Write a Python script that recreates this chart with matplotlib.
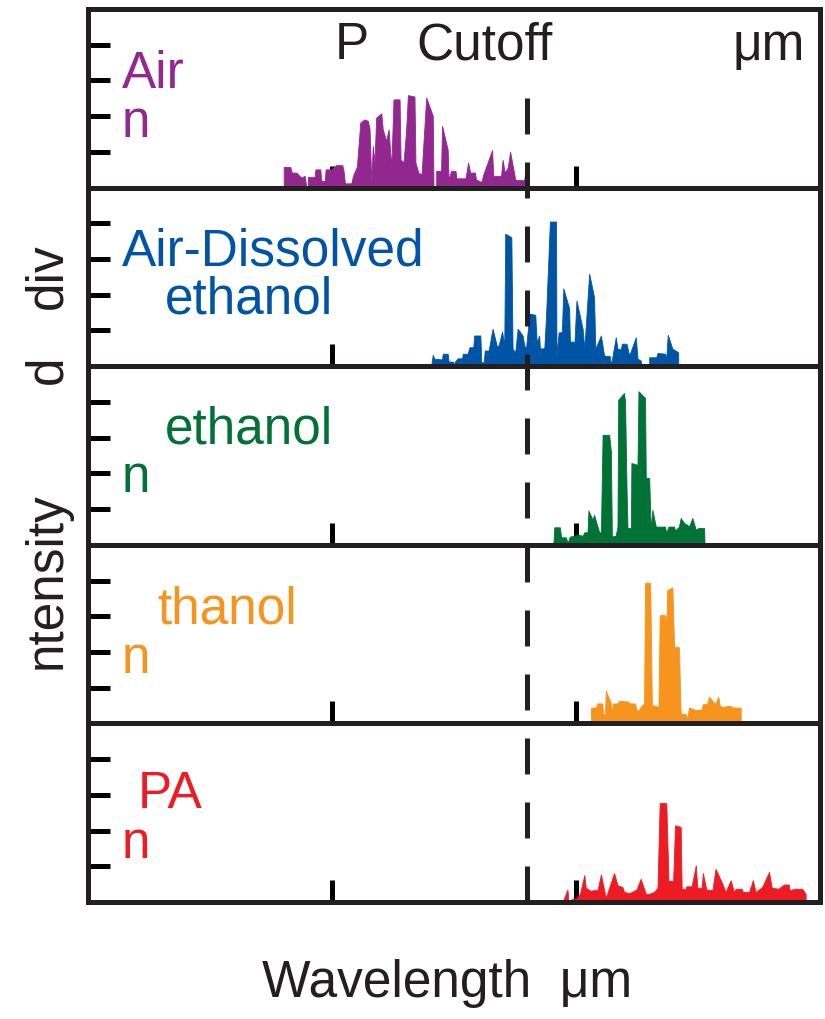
import matplotlib
matplotlib.use("Agg")
import matplotlib.pyplot as plt
from matplotlib.lines import Line2D
from matplotlib.transforms import blended_transform_factory

plt.rcParams['font.family'] = ['Liberation Sans', 'DejaVu Sans']

# ---------------- data ----------------
air_x = [0.802, 0.802, 0.829, 0.835, 0.854, 0.874, 0.888, 0.892, 0.895, 0.901, 0.901, 0.929, 0.932, 0.952,
         0.956, 0.970, 0.974, 0.997, 1.017, 1.042, 1.047, 1.053, 1.079, 1.086, 1.102, 1.116, 1.133, 1.147,
         1.154, 1.161, 1.167, 1.174, 1.181, 1.202, 1.208, 1.222, 1.232, 1.243, 1.252, 1.277, 1.281, 1.293,
         1.304, 1.311, 1.338, 1.342, 1.354, 1.367, 1.386, 1.413, 1.416, 1.427, 1.427, 1.447, 1.451, 1.474,
         1.478, 1.488, 1.506, 1.510, 1.547, 1.558, 1.566, 1.586, 1.590, 1.612, 1.620, 1.656, 1.661, 1.693,
         1.699, 1.708, 1.720, 1.730, 1.751, 1.761, 1.788, 1.795, 1.799]
air_y = [0.00, 0.58, 0.58, 0.42, 0.42, 0.28, 0.33, 0.14, 0.00, 0.00, 0.30, 0.30, 0.51, 0.51,
         0.19, 0.19, 0.51, 0.51, 0.63, 0.63, 0.49, 0.12, 0.12, 0.33, 0.59, 1.82, 1.91, 1.87,
         1.63, 0.14, 1.17, 0.70, 1.96, 2.08, 1.63, 1.31, 1.63, 0.56, 2.47, 2.47, 0.79, 0.70,
         1.63, 2.59, 2.55, 0.70, 0.42, 0.37, 2.52, 2.01, 0.00, 0.00, 0.47, 0.47, 1.73, 1.07,
         0.23, 0.47, 0.47, 0.26, 0.26, 0.70, 0.42, 0.42, 0.23, 0.16, 0.37, 1.05, 0.33, 0.33,
         0.78, 0.42, 0.56, 1.00, 0.23, 0.21, 0.21, 0.68, 0.00]

dis_x = [1.406, 1.413, 1.419, 1.451, 1.454, 1.474, 1.478, 1.495, 1.499, 1.504, 1.515, 1.533, 1.536, 1.556,
         1.563, 1.579, 1.583, 1.608, 1.612, 1.622, 1.626, 1.642, 1.658, 1.675, 1.682, 1.697, 1.706, 1.710,
         1.735, 1.740, 1.751, 1.761, 1.781, 1.788, 1.795, 1.809, 1.833, 1.839, 1.849, 1.852, 1.870, 1.877,
         1.893, 1.918, 1.920, 1.929, 1.942, 1.948, 1.972, 1.975, 1.989, 1.993, 2.002, 2.027, 2.034, 2.054,
         2.074, 2.079, 2.102, 2.115, 2.139, 2.143, 2.163, 2.170, 2.184, 2.188, 2.207, 2.218, 2.245, 2.252,
         2.265, 2.270, 2.300, 2.300, 2.329, 2.334, 2.365, 2.370, 2.376, 2.395, 2.419, 2.419]
dis_y = [0.00, 0.32, 0.21, 0.19, 0.35, 0.35, 0.13, 0.13, 0.05, 0.13, 0.22, 0.22, 0.35, 0.35,
         0.53, 0.53, 0.86, 0.86, 0.11, 0.11, 0.44, 0.44, 1.05, 0.58, 0.56, 0.97, 0.58, 3.71,
         3.61, 0.49, 0.39, 1.05, 0.86, 0.58, 0.49, 1.47, 1.44, 0.67, 0.86, 0.50, 0.50, 1.37,
         4.05, 4.05, 0.30, 0.95, 0.95, 2.18, 1.62, 0.69, 0.69, 0.58, 1.84, 1.05, 0.49, 2.59,
         1.93, 0.49, 0.86, 0.30, 0.28, 0.02, 0.81, 0.49, 0.47, 0.63, 0.63, 0.30, 0.81, 0.21,
         0.16, 0.00, 0.00, 0.25, 0.25, 0.37, 0.35, 0.21, 0.88, 0.49, 0.39, 0.00]

eth_x = [1.907, 1.911, 1.934, 1.939, 1.959, 1.965, 1.975, 2.013, 2.027, 2.034, 2.047, 2.051, 2.068, 2.074,
         2.095, 2.102, 2.109, 2.136, 2.143, 2.147, 2.163, 2.170, 2.173, 2.197, 2.201, 2.207, 2.211, 2.225,
         2.227, 2.252, 2.256, 2.283, 2.286, 2.300, 2.306, 2.313, 2.327, 2.343, 2.365, 2.370, 2.379, 2.402,
         2.406, 2.422, 2.429, 2.443, 2.456, 2.463, 2.477, 2.491, 2.501, 2.525, 2.527]
eth_y = [0.00, 0.49, 0.49, 0.21, 0.21, 0.05, 0.23, 0.28, 0.25, 0.35, 0.35, 0.96, 0.70, 0.84,
         0.35, 0.35, 3.08, 3.08, 2.61, 0.23, 0.26, 0.53, 4.06, 4.25, 4.01, 1.63, 0.47, 0.47,
         2.29, 2.24, 4.30, 4.11, 1.87, 1.87, 0.42, 0.98, 0.51, 0.51, 0.51, 0.33, 0.51, 0.51,
         0.40, 0.51, 0.75, 0.61, 0.56, 0.51, 0.75, 0.42, 0.47, 0.47, 0.00]

tha_x = [2.061, 2.061, 2.081, 2.088, 2.108, 2.111, 2.119, 2.122, 2.143, 2.147, 2.152, 2.170, 2.177, 2.215,
         2.220, 2.242, 2.248, 2.259, 2.265, 2.279, 2.283, 2.304, 2.311, 2.329, 2.338, 2.343, 2.365, 2.370,
         2.374, 2.395, 2.402, 2.422, 2.429, 2.450, 2.456, 2.463, 2.484, 2.491, 2.515, 2.520, 2.538, 2.545,
         2.565, 2.572, 2.583, 2.589, 2.600, 2.620, 2.634, 2.640, 2.675, 2.675]
tha_y = [0.00, 0.44, 0.45, 0.56, 0.56, 0.26, 0.26, 0.92, 0.56, 0.28, 0.56, 0.56, 0.63, 0.61,
         0.56, 0.56, 0.37, 0.37, 0.47, 0.56, 3.94, 3.94, 0.51, 0.49, 0.45, 3.03, 3.03, 2.75,
         3.73, 3.81, 2.15, 2.13, 0.28, 0.26, 0.11, 0.45, 0.39, 0.37, 0.39, 0.54, 0.54, 0.75,
         0.58, 0.56, 0.75, 0.51, 0.45, 0.49, 0.49, 0.45, 0.44, 0.00]

pa_x = [1.945, 1.965, 1.969, 1.978, 1.982, 2.000, 2.016, 2.034, 2.040, 2.061, 2.070, 2.088, 2.102, 2.122,
        2.156, 2.170, 2.190, 2.197, 2.218, 2.229, 2.248, 2.265, 2.286, 2.300, 2.320, 2.334, 2.343, 2.370,
        2.379, 2.398, 2.406, 2.429, 2.433, 2.450, 2.452, 2.474, 2.491, 2.497, 2.515, 2.520, 2.534, 2.559,
        2.572, 2.600, 2.613, 2.634, 2.647, 2.654, 2.679, 2.684, 2.709, 2.725, 2.736, 2.763, 2.791, 2.802,
        2.829, 2.852, 2.872, 2.875, 2.886, 2.893, 2.927, 2.941, 2.941]
pa_y = [0.00, 0.35, 0.00, 0.00, 0.09, 0.09, 0.23, 0.75, 0.40, 0.31, 0.33, 0.33, 0.77, 0.12,
        0.81, 0.47, 0.42, 0.28, 0.25, 0.28, 0.35, 0.65, 0.23, 0.23, 0.28, 0.40, 2.77, 2.77,
        0.59, 0.59, 2.15, 2.10, 0.37, 0.37, 0.44, 0.44, 1.03, 0.40, 0.40, 0.81, 0.35, 0.33,
        0.93, 0.51, 0.28, 0.61, 0.28, 0.37, 0.37, 0.28, 0.28, 0.61, 0.28, 0.42, 0.84, 0.40,
        0.37, 0.49, 0.49, 0.33, 0.35, 0.37, 0.37, 0.23, 0.00]

series_x = [air_x, dis_x, eth_x, tha_x, pa_x]
series_y = [air_y, dis_y, eth_y, tha_y, pa_y]
colors = ['#92278f', '#0054a6', '#007236', '#f7941d', '#ed1c24']

x_ticks = [0, 1, 2, 3]
y_ticks = [0, 1, 2, 3, 4]
cutoff_x = 1.80

# ---------------- figure ----------------
W, H = 825, 1019
fig = plt.figure(figsize=(W / 100, H / 100), dpi=100)
fig.patch.set_facecolor('white')
axes = fig.subplots(5, 1, sharex=True)
fig.subplots_adjust(left=88 / W, right=820 / W, top=1 - 9 / H, bottom=1 - 902 / H, hspace=0)

frame_col = '#231f20'
for ax, xs, ys, c in zip(axes, series_x, series_y, colors):
    ax.fill_between(xs, ys, 0, color=c, lw=0.6, edgecolor=c, zorder=2)
    ax.set_xlim(0, 3)
    ax.set_ylim(0, 5)
    ax.set_xticks(x_ticks)
    ax.set_yticks(y_ticks)
    ax.tick_params(axis='both', direction='in', length=16, width=3.6, color='black',
                   labelbottom=False, labelleft=False, bottom=True, left=True, top=False, right=False)
    for s in ax.spines.values():
        s.set_linewidth(3.6)
        s.set_color(frame_col)
        s.set_zorder(5)

# dashed cutoff line through all panels
tr = blended_transform_factory(axes[-1].transData, fig.transFigure)
ln = Line2D([cutoff_x, cutoff_x], [1 - 98 / H, 1 - 902 / H], transform=tr,
            color=frame_col, lw=3.6, linestyle=(0, (7.2, 5.6)), solid_capstyle='butt',
            dash_capstyle='butt', zorder=10)
fig.add_artist(ln)

FS = 37


def ftext(px, py, s, color, **kw):
    fig.text(px / W, 1 - py / H, s, color=color, fontsize=FS, ha='left', va='baseline', **kw)


# top annotations
ftext(335, 59, 'P', frame_col)
ftext(416, 59, 'Cutoff', frame_col)
ftext(732, 60, 'μm', frame_col)

# panel labels
ftext(122, 88, 'Air', colors[0])
ftext(122, 137, 'n', colors[0])
ftext(122, 266, 'Air-Dissolved', colors[1])
ftext(165, 314, 'ethanol', colors[1])
ftext(165, 443, 'ethanol', colors[2])
ftext(122, 492, 'n', colors[2])
ftext(157, 623, 'thanol', colors[3])
ftext(122, 673, 'n', colors[3])
ftext(138, 808, 'PA', colors[4])
ftext(122, 858, 'n', colors[4])

# axis labels
ftext(262, 997, 'Wavelength  μm', frame_col)
for s, py in [('ntensity', 669), ('d', 384), ('div', 309)]:
    fig.text(61 / W, 1 - py / H, s, color=frame_col, fontsize=FS, rotation=90,
             rotation_mode='anchor', ha='left', va='baseline')

fig.savefig('out.png', dpi=100, facecolor='white')
